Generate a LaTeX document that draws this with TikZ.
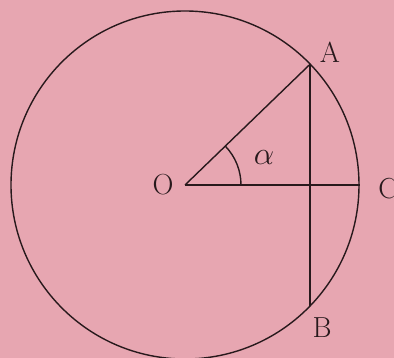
\documentclass[tikz,border=0pt]{standalone}
\definecolor{rosa}{RGB}{231,166,177}
\definecolor{inchiostro}{RGB}{40,25,28}
\tikzset{
  linea/.style={line width=1.4pt, draw=inchiostro},
  etichetta/.style={font=\fontsize{29}{32}\selectfont, text=inchiostro, inner sep=0pt}
}
\begin{document}
\begin{tikzpicture}[x=1pt,y=1pt]

  % --- sfondo ---
  \fill[rosa] (-185,-173) rectangle (209,185);
  \clip (-185,-173) rectangle (209,185);
  \useasboundingbox (-185,-173) rectangle (209,185);

  % --- punti ---
  \coordinate (O) at (0,0);
  \coordinate (A) at (44:174);
  \coordinate (B) at (-44:174);
  \coordinate (C) at (0:175);

  % --- cerchio ---
  \draw[linea] (O) circle (174);

  % --- raggi e corda ---
  \draw[linea] (O) -- (A);
  \draw[linea] (O) -- (C);
  \draw[linea] (A) -- (B);

  % --- angolo alfa ---
  \draw[linea] ([shift={(0:56)}]O) arc (0:44:56);
  \node[etichetta] (alfa) at (79,27) {\scalebox{1.3}{$\alpha$}};

  % --- etichette ---
  \node[etichetta] (lO) at (-22,0) {O};
  \node[etichetta] (lA) at (145,133) {A};
  \node[etichetta] (lB) at (137,-143) {B};
  \node[etichetta] (lC) at (203,-4) {C};

\end{tikzpicture}
\end{document}
